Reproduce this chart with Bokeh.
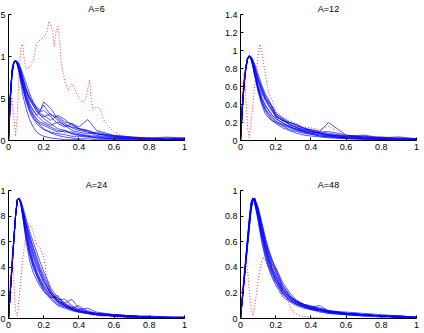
from bokeh.plotting import figure
from bokeh.layouts import row, column
from bokeh.models import FixedTicker, Range1d
from bokeh.embed import file_html
from bokeh.resources import INLINE

# shared x grid for the blue curves
X = [0, 0.01, 0.02, 0.03, 0.04, 0.05, 0.06, 0.07, 0.08, 0.1, 0.12, 0.14, 0.16, 0.18, 0.2,
     0.24, 0.28, 0.32, 0.36, 0.4, 0.45, 0.5, 0.6, 0.7, 0.8, 0.9, 1.0]

titles = ["A=6", "A=12", "A=24", "A=48"]
y_max = [1.5, 1.4, 1.0, 1.0]
y_ticks = [[0, 0.5, 1, 1.5], [0, 0.2, 0.4, 0.6, 0.8, 1, 1.2, 1.4],
           [0, 0.2, 0.4, 0.6, 0.8, 1], [0, 0.2, 0.4, 0.6, 0.8, 1]]
x_ticks = [0, 0.2, 0.4, 0.6, 0.8, 1]

blue_a6 = [
    [0, 0.5, 0.82, 0.93, 0.95, 0.9, 0.8, 0.68, 0.55, 0.38, 0.25, 0.16, 0.1, 0.07, 0.05, 0.03, 0.02, 0.01, 0.01, 0.01, 0, 0, 0, 0, 0, 0, 0],
    [0, 0.52, 0.84, 0.94, 0.95, 0.92, 0.85, 0.76, 0.66, 0.5, 0.38, 0.3, 0.24, 0.18, 0.14, 0.09, 0.06, 0.04, 0.03, 0.02, 0.02, 0.01, 0.01, 0, 0, 0, 0],
    [0, 0.48, 0.8, 0.92, 0.95, 0.93, 0.88, 0.8, 0.72, 0.58, 0.48, 0.42, 0.36, 0.3, 0.26, 0.2, 0.14, 0.12, 0.08, 0.07, 0.05, 0.04, 0.02, 0.02, 0.01, 0.01, 0],
    [0, 0.5, 0.82, 0.93, 0.95, 0.93, 0.9, 0.84, 0.76, 0.62, 0.52, 0.45, 0.4, 0.36, 0.42, 0.3, 0.28, 0.22, 0.2, 0.16, 0.25, 0.12, 0.06, 0.04, 0.03, 0.02, 0.02],
    [0, 0.55, 0.85, 0.94, 0.95, 0.91, 0.84, 0.75, 0.66, 0.52, 0.42, 0.36, 0.3, 0.35, 0.46, 0.38, 0.26, 0.2, 0.15, 0.12, 0.1, 0.08, 0.05, 0.03, 0.02, 0.02, 0.03],
    [0, 0.46, 0.78, 0.91, 0.95, 0.94, 0.9, 0.83, 0.75, 0.6, 0.5, 0.42, 0.34, 0.3, 0.28, 0.32, 0.24, 0.18, 0.16, 0.14, 0.12, 0.08, 0.04, 0.03, 0.02, 0.01, 0.01],
    [0, 0.5, 0.8, 0.92, 0.95, 0.92, 0.86, 0.78, 0.7, 0.55, 0.44, 0.36, 0.3, 0.26, 0.22, 0.18, 0.22, 0.18, 0.12, 0.1, 0.08, 0.1, 0.05, 0.04, 0.03, 0.04, 0.03],
    [0, 0.53, 0.83, 0.93, 0.95, 0.9, 0.82, 0.72, 0.62, 0.46, 0.34, 0.26, 0.2, 0.16, 0.13, 0.1, 0.08, 0.07, 0.05, 0.05, 0.04, 0.03, 0.02, 0.01, 0.01, 0, 0],
    [0, 0.49, 0.81, 0.93, 0.95, 0.93, 0.88, 0.82, 0.74, 0.6, 0.5, 0.44, 0.38, 0.32, 0.3, 0.24, 0.3, 0.25, 0.18, 0.14, 0.12, 0.08, 0.06, 0.04, 0.02, 0.03, 0.02],
    [0, 0.51, 0.82, 0.93, 0.95, 0.91, 0.84, 0.74, 0.64, 0.48, 0.36, 0.28, 0.22, 0.2, 0.18, 0.14, 0.1, 0.12, 0.08, 0.06, 0.05, 0.03, 0.02, 0.02, 0.01, 0.01, 0.01],
    [0, 0.47, 0.79, 0.92, 0.95, 0.94, 0.91, 0.86, 0.8, 0.68, 0.56, 0.46, 0.38, 0.34, 0.36, 0.28, 0.2, 0.16, 0.2, 0.14, 0.1, 0.06, 0.04, 0.02, 0.02, 0.01, 0.02],
    [0, 0.5, 0.82, 0.93, 0.95, 0.92, 0.86, 0.78, 0.68, 0.52, 0.4, 0.32, 0.26, 0.22, 0.2, 0.16, 0.12, 0.1, 0.1, 0.08, 0.06, 0.05, 0.03, 0.02, 0.02, 0.01, 0.01],
]

blue_a12 = [
    [0, 0.36, 0.63, 0.81, 0.91, 0.94, 0.91, 0.84, 0.74, 0.56, 0.42, 0.33, 0.27, 0.22, 0.19, 0.14, 0.11, 0.08, 0.06, 0.05, 0.04, 0.03, 0.02, 0.01, 0.01, 0, 0],
    [0, 0.34, 0.6, 0.79, 0.9, 0.94, 0.93, 0.88, 0.82, 0.68, 0.58, 0.5, 0.44, 0.38, 0.3, 0.24, 0.18, 0.14, 0.12, 0.1, 0.08, 0.06, 0.04, 0.03, 0.02, 0.01, 0.01],
    [0, 0.38, 0.65, 0.82, 0.92, 0.94, 0.9, 0.82, 0.72, 0.54, 0.4, 0.3, 0.25, 0.22, 0.2, 0.16, 0.12, 0.1, 0.08, 0.07, 0.05, 0.04, 0.02, 0.02, 0.01, 0.01, 0],
    [0, 0.33, 0.6, 0.79, 0.9, 0.94, 0.93, 0.9, 0.85, 0.74, 0.62, 0.52, 0.45, 0.36, 0.28, 0.22, 0.2, 0.16, 0.14, 0.12, 0.1, 0.2, 0.06, 0.04, 0.03, 0.02, 0.02],
    [0, 0.35, 0.62, 0.8, 0.91, 0.94, 0.92, 0.86, 0.78, 0.63, 0.52, 0.45, 0.4, 0.34, 0.27, 0.22, 0.18, 0.14, 0.1, 0.09, 0.08, 0.06, 0.05, 0.04, 0.03, 0.04, 0.02],
    [0, 0.37, 0.64, 0.81, 0.91, 0.94, 0.91, 0.85, 0.77, 0.6, 0.48, 0.4, 0.34, 0.28, 0.24, 0.2, 0.15, 0.12, 0.1, 0.08, 0.06, 0.05, 0.03, 0.02, 0.02, 0.01, 0.01],
    [0, 0.34, 0.61, 0.8, 0.91, 0.94, 0.92, 0.87, 0.8, 0.66, 0.55, 0.47, 0.42, 0.38, 0.3, 0.25, 0.2, 0.17, 0.13, 0.12, 0.1, 0.08, 0.05, 0.06, 0.03, 0.02, 0.01],
    [0, 0.36, 0.63, 0.81, 0.91, 0.94, 0.91, 0.84, 0.75, 0.58, 0.45, 0.36, 0.3, 0.26, 0.22, 0.17, 0.14, 0.11, 0.09, 0.07, 0.05, 0.04, 0.03, 0.02, 0.01, 0.01, 0],
    [0, 0.35, 0.62, 0.8, 0.9, 0.94, 0.92, 0.88, 0.81, 0.68, 0.56, 0.46, 0.38, 0.32, 0.28, 0.22, 0.2, 0.18, 0.14, 0.1, 0.09, 0.1, 0.06, 0.03, 0.04, 0.02, 0.02],
    [0, 0.37, 0.64, 0.82, 0.92, 0.94, 0.9, 0.83, 0.73, 0.57, 0.44, 0.35, 0.29, 0.24, 0.21, 0.18, 0.15, 0.13, 0.11, 0.1, 0.08, 0.07, 0.04, 0.03, 0.02, 0.01, 0.01],
    [0, 0.34, 0.6, 0.79, 0.9, 0.94, 0.93, 0.89, 0.83, 0.7, 0.6, 0.48, 0.4, 0.34, 0.26, 0.23, 0.17, 0.15, 0.12, 0.11, 0.08, 0.06, 0.04, 0.05, 0.02, 0.03, 0.01],
    [0, 0.36, 0.63, 0.81, 0.91, 0.94, 0.91, 0.85, 0.76, 0.59, 0.47, 0.39, 0.33, 0.28, 0.25, 0.19, 0.16, 0.12, 0.1, 0.08, 0.07, 0.05, 0.03, 0.02, 0.01, 0.01, 0],
]

blue_a24 = [
    [0, 0.2, 0.4, 0.6, 0.8, 0.92, 0.94, 0.89, 0.8, 0.6, 0.45, 0.36, 0.3, 0.25, 0.21, 0.15, 0.1, 0.08, 0.06, 0.05, 0.04, 0.03, 0.02, 0.01, 0.01, 0, 0],
    [0, 0.2, 0.41, 0.61, 0.8, 0.93, 0.94, 0.91, 0.86, 0.74, 0.64, 0.56, 0.48, 0.4, 0.34, 0.22, 0.14, 0.1, 0.08, 0.06, 0.04, 0.03, 0.02, 0.01, 0.01, 0.01, 0],
    [0, 0.21, 0.42, 0.62, 0.81, 0.93, 0.94, 0.9, 0.83, 0.68, 0.55, 0.45, 0.37, 0.3, 0.25, 0.17, 0.16, 0.12, 0.08, 0.06, 0.05, 0.04, 0.02, 0.02, 0.01, 0.01, 0],
    [0, 0.2, 0.4, 0.6, 0.79, 0.92, 0.94, 0.92, 0.88, 0.78, 0.68, 0.6, 0.52, 0.44, 0.37, 0.24, 0.16, 0.12, 0.15, 0.08, 0.06, 0.04, 0.03, 0.02, 0.01, 0.01, 0.01],
    [0, 0.21, 0.41, 0.61, 0.8, 0.93, 0.94, 0.9, 0.84, 0.7, 0.58, 0.48, 0.4, 0.34, 0.28, 0.2, 0.13, 0.1, 0.08, 0.1, 0.05, 0.04, 0.03, 0.02, 0.01, 0.01, 0],
    [0, 0.2, 0.4, 0.6, 0.8, 0.92, 0.94, 0.89, 0.81, 0.63, 0.5, 0.4, 0.33, 0.27, 0.22, 0.16, 0.18, 0.1, 0.07, 0.06, 0.04, 0.03, 0.02, 0.01, 0.01, 0, 0],
    [0, 0.2, 0.41, 0.61, 0.8, 0.93, 0.94, 0.91, 0.85, 0.72, 0.62, 0.52, 0.44, 0.37, 0.3, 0.19, 0.14, 0.11, 0.08, 0.06, 0.05, 0.03, 0.03, 0.02, 0.01, 0.01, 0.01],
    [0, 0.21, 0.42, 0.62, 0.81, 0.93, 0.94, 0.9, 0.82, 0.65, 0.52, 0.42, 0.35, 0.29, 0.24, 0.18, 0.12, 0.09, 0.07, 0.05, 0.04, 0.03, 0.02, 0.01, 0.01, 0, 0],
    [0, 0.2, 0.4, 0.61, 0.8, 0.92, 0.94, 0.91, 0.86, 0.75, 0.65, 0.55, 0.46, 0.38, 0.32, 0.21, 0.15, 0.15, 0.1, 0.07, 0.08, 0.05, 0.03, 0.02, 0.02, 0.01, 0.01],
    [0, 0.2, 0.41, 0.61, 0.8, 0.93, 0.94, 0.9, 0.83, 0.67, 0.54, 0.44, 0.36, 0.31, 0.26, 0.19, 0.13, 0.1, 0.07, 0.06, 0.04, 0.03, 0.02, 0.02, 0.01, 0.01, 0],
    [0, 0.21, 0.41, 0.62, 0.8, 0.93, 0.94, 0.91, 0.85, 0.73, 0.6, 0.5, 0.42, 0.35, 0.29, 0.2, 0.14, 0.11, 0.09, 0.07, 0.05, 0.04, 0.02, 0.02, 0.01, 0.01, 0.01],
    [0, 0.2, 0.4, 0.6, 0.8, 0.92, 0.94, 0.9, 0.82, 0.64, 0.5, 0.41, 0.34, 0.28, 0.23, 0.16, 0.11, 0.09, 0.07, 0.05, 0.04, 0.03, 0.02, 0.01, 0.01, 0, 0],
]

blue_a48 = [
    [0, 0.15, 0.3, 0.45, 0.6, 0.75, 0.88, 0.94, 0.92, 0.78, 0.62, 0.5, 0.4, 0.33, 0.28, 0.19, 0.14, 0.11, 0.09, 0.07, 0.06, 0.05, 0.03, 0.02, 0.02, 0.01, 0],
    [0, 0.14, 0.28, 0.42, 0.56, 0.7, 0.84, 0.92, 0.94, 0.86, 0.74, 0.62, 0.52, 0.43, 0.36, 0.24, 0.17, 0.13, 0.11, 0.09, 0.07, 0.06, 0.04, 0.03, 0.02, 0.01, 0.01],
    [0, 0.16, 0.31, 0.47, 0.62, 0.77, 0.9, 0.94, 0.91, 0.8, 0.66, 0.54, 0.44, 0.36, 0.3, 0.2, 0.15, 0.12, 0.1, 0.08, 0.07, 0.05, 0.04, 0.03, 0.02, 0.01, 0],
    [0, 0.15, 0.29, 0.44, 0.58, 0.73, 0.86, 0.93, 0.94, 0.84, 0.72, 0.6, 0.5, 0.42, 0.38, 0.26, 0.18, 0.12, 0.1, 0.09, 0.1, 0.06, 0.04, 0.03, 0.02, 0.02, 0.01],
    [0, 0.15, 0.3, 0.45, 0.6, 0.75, 0.88, 0.94, 0.93, 0.82, 0.68, 0.56, 0.46, 0.38, 0.32, 0.22, 0.16, 0.12, 0.1, 0.08, 0.07, 0.05, 0.04, 0.03, 0.02, 0.01, 0],
    [0, 0.16, 0.32, 0.48, 0.64, 0.79, 0.91, 0.94, 0.9, 0.76, 0.6, 0.48, 0.39, 0.32, 0.26, 0.17, 0.13, 0.1, 0.08, 0.07, 0.05, 0.04, 0.03, 0.02, 0.01, 0.01, 0],
    [0, 0.14, 0.29, 0.43, 0.58, 0.72, 0.85, 0.93, 0.94, 0.85, 0.73, 0.61, 0.52, 0.45, 0.4, 0.28, 0.2, 0.14, 0.11, 0.1, 0.08, 0.06, 0.05, 0.04, 0.03, 0.02, 0.01],
    [0, 0.15, 0.3, 0.46, 0.61, 0.76, 0.89, 0.94, 0.92, 0.81, 0.67, 0.55, 0.45, 0.37, 0.31, 0.21, 0.15, 0.11, 0.09, 0.08, 0.06, 0.05, 0.03, 0.03, 0.02, 0.01, 0.01],
    [0, 0.15, 0.29, 0.44, 0.59, 0.74, 0.87, 0.93, 0.94, 0.83, 0.7, 0.58, 0.48, 0.4, 0.34, 0.23, 0.17, 0.14, 0.11, 0.09, 0.08, 0.06, 0.04, 0.03, 0.02, 0.02, 0.01],
    [0, 0.16, 0.31, 0.46, 0.62, 0.77, 0.9, 0.94, 0.91, 0.79, 0.64, 0.52, 0.42, 0.35, 0.29, 0.19, 0.14, 0.11, 0.09, 0.07, 0.06, 0.04, 0.03, 0.02, 0.02, 0.01, 0],
    [0, 0.15, 0.3, 0.45, 0.6, 0.74, 0.87, 0.94, 0.93, 0.83, 0.7, 0.57, 0.47, 0.39, 0.33, 0.22, 0.16, 0.13, 0.1, 0.08, 0.07, 0.05, 0.04, 0.03, 0.02, 0.01, 0.01],
    [0, 0.14, 0.28, 0.43, 0.57, 0.71, 0.85, 0.92, 0.94, 0.87, 0.76, 0.64, 0.54, 0.46, 0.38, 0.25, 0.18, 0.13, 0.11, 0.09, 0.07, 0.06, 0.04, 0.03, 0.02, 0.02, 0.01],
]

red_x_a6 = [0, 0.01, 0.02, 0.03, 0.04, 0.05, 0.06, 0.07, 0.08, 0.09, 0.1, 0.12, 0.14, 0.16, 0.18, 0.2,
            0.22, 0.23, 0.24, 0.25, 0.26, 0.27, 0.28, 0.29, 0.3, 0.32, 0.34, 0.36, 0.38, 0.4, 0.42,
            0.44, 0.46, 0.47, 0.48, 0.5, 0.52, 0.54, 0.56, 0.6, 0.65, 0.7, 0.8, 0.9, 1.0]
red_y_a6 = [0, 0.35, 0.5, 0.3, 0.05, 0.3, 0.8, 1.1, 1.15, 0.95, 0.85, 0.88, 0.95, 1.15, 1.2, 1.22,
            1.3, 1.42, 1.38, 1.3, 1.12, 1.3, 1.36, 1.2, 0.92, 0.7, 0.6, 0.68, 0.6, 0.5, 0.45,
            0.5, 0.72, 0.5, 0.36, 0.4, 0.38, 0.25, 0.18, 0.1, 0.06, 0.03, 0.01, 0.005, 0]

red_x_a12 = [0, 0.01, 0.02, 0.03, 0.04, 0.05, 0.06, 0.08, 0.1, 0.11, 0.12, 0.14, 0.16, 0.18, 0.2,
             0.25, 0.3, 0.35, 0.4, 0.45, 0.5, 0.55, 0.6, 0.7, 0.8, 0.9, 1.0]
red_y_a12 = [0, 0.55, 0.75, 0.5, 0.15, 0.03, 0.2, 0.6, 0.95, 1.07, 1.0, 0.75, 0.52, 0.45, 0.32,
             0.25, 0.2, 0.15, 0.14, 0.12, 0.16, 0.1, 0.05, 0.03, 0.02, 0.01, 0]

red_x_a24 = [0, 0.01, 0.02, 0.03, 0.04, 0.05, 0.06, 0.08, 0.1, 0.12, 0.14, 0.16, 0.18, 0.2, 0.22,
             0.24, 0.28, 0.32, 0.36, 0.4, 0.5, 0.6, 0.8, 1.0]
red_y_a24 = [0, 0.3, 0.5, 0.3, 0.05, 0.02, 0.15, 0.45, 0.68, 0.74, 0.68, 0.58, 0.55, 0.48, 0.3,
             0.2, 0.15, 0.12, 0.1, 0.05, 0.02, 0.01, 0, 0]

red_x_a48 = [0, 0.01, 0.02, 0.03, 0.04, 0.05, 0.06, 0.07, 0.08, 0.1, 0.12, 0.13, 0.15, 0.18, 0.2,
             0.22, 0.25, 0.28, 0.3, 0.34, 0.4, 0.5, 0.7, 1.0]
red_y_a48 = [0, 0.2, 0.38, 0.45, 0.38, 0.22, 0.08, 0.02, 0.08, 0.3, 0.45, 0.48, 0.42, 0.36, 0.4,
             0.32, 0.2, 0.1, 0.05, 0.02, 0.01, 0, 0, 0]

FONT = "Liberation Sans"


def fmt(v):
    return ("%g" % v)


def make(title, ymax, yt, blues, rx, ry, frame_h, borders):
    top, right, bottom, left = borders
    p = figure(frame_width=176, frame_height=frame_h, output_backend="svg", toolbar_location=None,
               x_range=Range1d(0, 1), y_range=Range1d(0, ymax),
               min_border_top=top, min_border_right=right, min_border_bottom=bottom,
               min_border_left=left, title=title)
    p.title.align = "center"
    p.title.text_font = FONT
    p.title.text_font_size = "9px"
    p.title.text_font_style = "normal"
    p.title.text_color = "#000000"
    p.title.standoff = 1
    p.outline_line_color = None
    p.xgrid.visible = False
    p.ygrid.visible = False
    p.background_fill_color = "white"
    p.border_fill_color = "white"
    p.xaxis.ticker = FixedTicker(ticks=x_ticks)
    p.yaxis.ticker = FixedTicker(ticks=yt)
    p.xaxis.major_label_overrides = {t: fmt(t) for t in x_ticks}
    p.yaxis.major_label_overrides = {t: fmt(t) for t in yt}
    for ax in (p.xaxis, p.yaxis):
        ax.major_tick_in = 3
        ax.major_tick_out = 0
        ax.minor_tick_in = 0
        ax.minor_tick_out = 0
        ax.axis_line_color = "#000000"
        ax.major_tick_line_color = "#000000"
        ax.major_label_text_font = FONT
        ax.major_label_text_font_size = "9px"
        ax.major_label_text_color = "#000000"
        ax.major_label_standoff = 3
    for ys in blues:
        p.line(X, ys, line_color="#0000ff", line_width=0.8, line_alpha=0.85)
    p.line(rx, ry, line_color="#ff0000", line_width=0.9, line_dash="1 2", line_alpha=0.9)
    return p


p1 = make(titles[0], y_max[0], y_ticks[0], blue_a6, red_x_a6, red_y_a6, 126, (14, 26, 36, 30))
p2 = make(titles[1], y_max[1], y_ticks[1], blue_a12, red_x_a12, red_y_a12, 126, (14, 8, 36, 30))
p3 = make(titles[2], y_max[2], y_ticks[2], blue_a24, red_x_a24, red_y_a24, 128, (14, 26, 14, 30))
p4 = make(titles[3], y_max[3], y_ticks[3], blue_a48, red_x_a48, red_y_a48, 128, (14, 8, 14, 30))

layout = column(row(p1, p2), row(p3, p4), margin=(0, 0, 0, -22))

open("out.html", "w").write(file_html(layout, INLINE))
